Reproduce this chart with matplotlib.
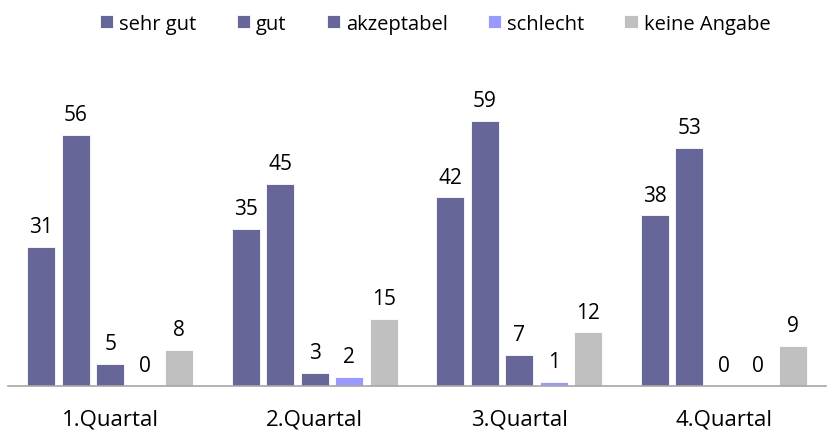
import numpy as np
import matplotlib.pyplot as plt

plt.rcParams['font.family'] = ['Open Sans', 'DejaVu Sans']

quartale = ['1.Quartal', '2.Quartal', '3.Quartal', '4.Quartal']
serien = ['sehr gut', 'gut', 'akzeptabel', 'schlecht', 'keine Angabe']
sehr_gut = [31, 35, 42, 38]
gut = [56, 45, 59, 53]
akzeptabel = [5, 3, 7, 0]
schlecht = [0, 2, 1, 0]
keine_angabe = [8, 15, 12, 9]
farben = ['#666699', '#666699', '#666699', '#9999FF', '#C0C0C0']

werte = [sehr_gut, gut, akzeptabel, schlecht, keine_angabe]

fig = plt.figure(figsize=(8.4, 4.35), dpi=100)
ax = fig.add_axes([0.0095, 0.110, 0.974, 0.723])

x = np.arange(len(quartale))
step = 0.169
breite = 0.137
for i, (name, vals, col) in enumerate(zip(serien, werte, farben)):
    pos = x + (i - 2) * step
    bars = ax.bar(pos, vals, width=breite, color=col, edgecolor='white',
                  linewidth=0.6, label=name)
    for b, v in zip(bars, vals):
        ax.annotate(str(v), (b.get_x() + b.get_width() / 2, v),
                    xytext=(0, 7), textcoords='offset points',
                    ha='center', va='bottom', fontsize=15, color='black')

ax.set_xlim(-0.5, 3.5)
ax.set_ylim(0, 70)
ax.set_xticks(x)
ax.set_xticklabels(quartale, fontsize=16)
ax.tick_params(axis='x', length=0, pad=16)
ax.set_yticks([])
for s in ['top', 'right', 'left']:
    ax.spines[s].set_visible(False)
ax.spines['bottom'].set_color('#A6A6A6')
ax.spines['bottom'].set_linewidth(1.2)

fig.legend(loc='upper center', bbox_to_anchor=(0.518, 1.008), ncol=5,
           frameon=False, fontsize=14.5, handlelength=0.65, handleheight=0.65,
           handletextpad=0.3, columnspacing=2.0)

fig.savefig('out.png', dpi=100)
